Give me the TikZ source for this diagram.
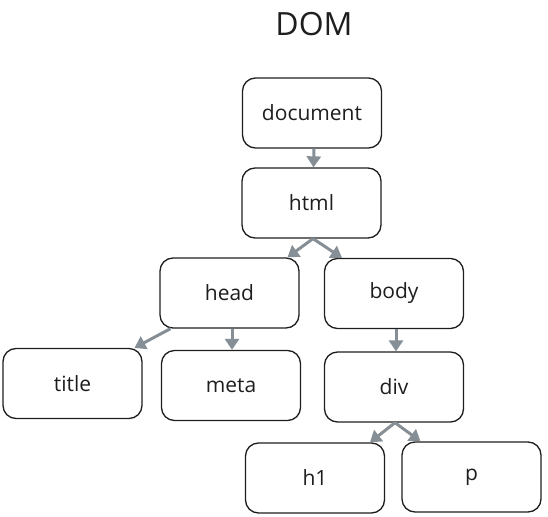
\documentclass[tikz,border=0pt]{standalone}
\usepackage{fontspec}
\setmainfont{Open Sans}
\usetikzlibrary{arrows.meta}
\definecolor{ink}{HTML}{1E1E1E}
\definecolor{arrgray}{HTML}{868E96}
\tikzset{
  box/.style={draw=ink, line width=1.3pt, rounded corners=13pt, minimum width=139pt, minimum height=70pt, inner sep=0pt, font=\fontsize{21}{24}\selectfont, text=ink},
  arr/.style={draw=arrgray, line width=3pt, -{Triangle[length=11pt,width=14pt]}}
}
\begin{document}
\begin{tikzpicture}[x=1pt,y=-1pt]
\useasboundingbox (0,0) rectangle (548,516);
\node[text=ink, font=\fontsize{32}{36}\selectfont] (dom) at (314,24) {DOM};
\node[box] (document) at (312,113) {document};
\node[box] (html) at (311.5,203) {html};
\node[box] (head) at (229.5,293) {head};
\node[box] (body) at (394,293.5) {body};
\node[box] (titlen) at (72.5,383.5) {title};
\node[box] (meta) at (231,385.5) {meta};
\node[box] (div) at (394,387) {div};
\node[box] (hone) at (315,478) {h1};
\node[box] (p) at (471.5,477) {p};
\draw[arr] ([xshift=2pt]document.south) -- ([xshift=2pt]html.north);
\draw[arr] ([xshift=1.5pt]html.south) -- ([xshift=58pt]head.north);
\draw[arr] ([xshift=1.5pt]html.south) -- ([xshift=-52pt]body.north);
\draw[arr] ([xshift=-59pt]head.south) -- ([xshift=62pt]titlen.north);
\draw[arr] ([xshift=2.5pt]head.south) -- ([xshift=1pt]meta.north);
\draw[arr] ([xshift=2pt]body.south) -- ([xshift=2pt]div.north);
\draw[arr] ([xshift=1pt]div.south) -- ([xshift=55pt]hone.north);
\draw[arr] ([xshift=1pt]div.south) -- ([xshift=-51pt]p.north);
\end{tikzpicture}
\end{document}
